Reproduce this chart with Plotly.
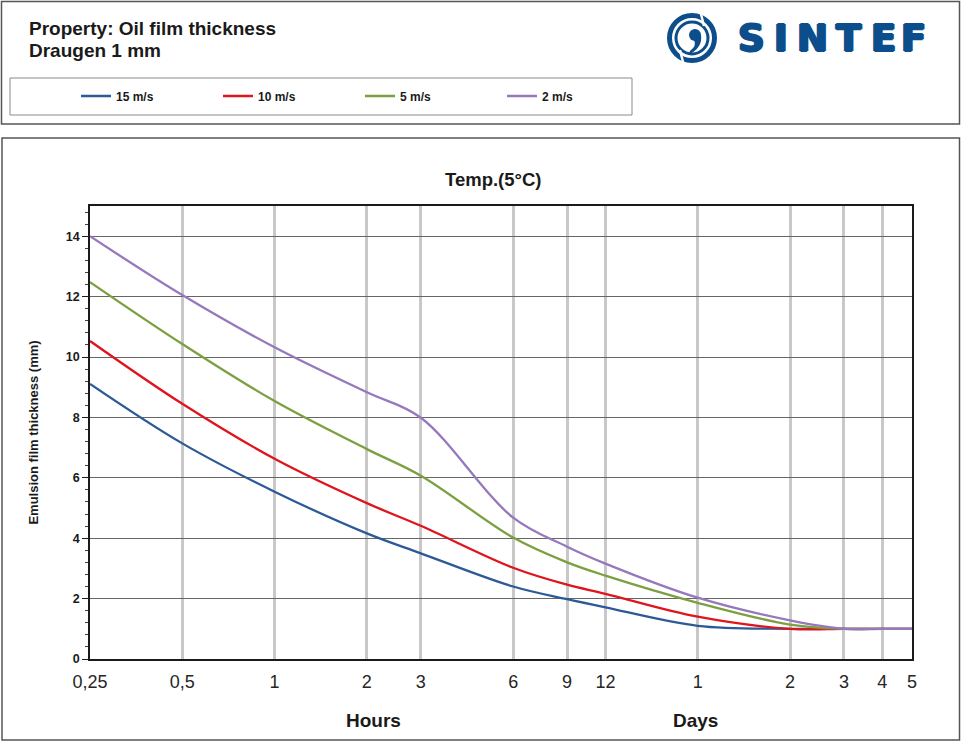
import math
import plotly.graph_objects as go

# ---------------- data ----------------
hours = [0.25, 0.5, 1, 2, 3, 6, 9, 12, 24, 48, 72, 96, 120]
wind_15 = [9.11, 7.14, 5.54, 4.16, 3.50, 2.40, 1.98, 1.71, 1.10, 1.00, 1.00, 1.00, 1.00]
wind_10 = [10.53, 8.45, 6.63, 5.16, 4.41, 3.02, 2.46, 2.16, 1.40, 1.00, 1.00, 1.00, 1.00]
wind_5 = [12.48, 10.43, 8.54, 6.95, 6.07, 4.02, 3.20, 2.76, 1.86, 1.14, 1.00, 1.00, 1.00]
wind_2 = [14.00, 12.05, 10.32, 8.83, 7.99, 4.68, 3.72, 3.16, 2.03, 1.28, 1.00, 1.00, 1.00]

series_names = ["15 m/s", "10 m/s", "5 m/s", "2 m/s"]
series_colors = ["#2D5A97", "#E0141C", "#7CA040", "#9579BC"]

tick_hours = [0.25, 0.5, 1, 2, 3, 6, 9, 12, 24, 48, 72, 96, 120]
tick_labels = ["0,25", "0,5", "1", "2", "3", "6", "9", "12", "1", "2", "3", "4", "5"]

# ---------------- layout helpers ----------------
W, H = 962, 742
L, R, T, B = 90, 912, 206, 659


def fx(x):
    return (x - L) / (R - L)


def fy(y):
    return (B - y) / (B - T)


FONT = "Liberation Sans, Arial, sans-serif"
LOGO_BLUE = "#0C4E8B"

fig = go.Figure()
for name, col, vals in zip(series_names, series_colors, [wind_15, wind_10, wind_5, wind_2]):
    fig.add_trace(go.Scatter(
        x=hours, y=vals, name=name, mode="lines",
        line=dict(color=col, width=2.3, shape="spline", smoothing=1.0),
    ))

fig.update_layout(
    width=W, height=H,
    margin=dict(l=L, r=W - R, t=T, b=H - B, pad=0),
    paper_bgcolor="white", plot_bgcolor="white",
    font=dict(family=FONT, color="#1a1a1a"),
    showlegend=True,
    legend=dict(
        orientation="h", x=fx(76), xanchor="left", y=fy(96), yanchor="middle",
        entrywidth=97, entrywidthmode="pixels", itemwidth=30,
        font=dict(family=FONT, size=12, weight="bold", color="#1a1a1a"),
        bgcolor="rgba(0,0,0,0)", borderwidth=0,
    ),
)

fig.update_xaxes(
    type="log", range=[math.log10(0.25), math.log10(120)],
    tickmode="array", tickvals=tick_hours, ticktext=tick_labels,
    showgrid=True, gridcolor="#c8c8c8", gridwidth=3,
    showline=True, linecolor="#1a1a1a", linewidth=1.5, mirror=True,
    ticks="", zeroline=False,
    tickfont=dict(family=FONT, size=18, color="#262626"),
    ticklabelstandoff=6,
)
fig.update_yaxes(
    range=[0, 15], tick0=0, dtick=2,
    ticks="outside", ticklen=6, tickwidth=1, tickcolor="#1a1a1a",
    minor=dict(ticks="outside", ticklen=3, dtick=0.4, tickcolor="#444444", showgrid=False),
    showgrid=True, gridcolor="#666666", gridwidth=1,
    showline=True, linecolor="#1a1a1a", linewidth=1.5, mirror=True,
    zeroline=False,
    tickfont=dict(family=FONT, size=12.5, weight="bold", color="#1a1a1a"),
    title=dict(text="Emulsion film thickness (mm)", standoff=24,
               font=dict(family=FONT, size=13, weight="bold", color="#1a1a1a")),
)

shapes = []
# outer frames
shapes.append(dict(type="rect", xref="paper", yref="paper",
                   x0=fx(1.5), x1=fx(959.5), y0=fy(124), y1=fy(1.5),
                   line=dict(color="#555555", width=1.5)))
shapes.append(dict(type="rect", xref="paper", yref="paper",
                   x0=fx(10), x1=fx(632), y0=fy(115), y1=fy(78),
                   line=dict(color="#8a8a8a", width=1)))
shapes.append(dict(type="rect", xref="paper", yref="paper",
                   x0=fx(2), x1=fx(959.5), y0=fy(740), y1=fy(138),
                   line=dict(color="#555555", width=1.5)))

# SINTEF emblem (rings + comma)
cx, cy = 692, 38
for r, w in [(22.5, 5), (16, 3)]:
    shapes.append(dict(type="circle", xref="paper", yref="paper",
                       x0=fx(cx - r), x1=fx(cx + r), y0=fy(cy + r), y1=fy(cy - r),
                       line=dict(color=LOGO_BLUE, width=w)))
# gaps in the rings
for (x0, y0, x1, y1) in [(700, 10, 704, 26), (680, 50, 684, 66)]:
    shapes.append(dict(type="line", xref="paper", yref="paper",
                       x0=fx(x0), y0=fy(y0), x1=fx(x1), y1=fy(y1),
                       line=dict(color="white", width=2.5)))
shapes.append(dict(type="circle", xref="paper", yref="paper",
                   x0=fx(689), x1=fx(701), y0=fy(41), y1=fy(29),
                   fillcolor=LOGO_BLUE, line=dict(color=LOGO_BLUE, width=0)))


def pt(x, y):
    return f"{fx(x):.5f},{fy(y):.5f}"


comma = (f"M {pt(701, 35)} Q {pt(703, 48)} {pt(688, 55)} "
         f"L {pt(690, 51)} Q {pt(697, 46)} {pt(694, 40)} Z")
shapes.append(dict(type="path", xref="paper", yref="paper", path=comma,
                   fillcolor=LOGO_BLUE, line=dict(color=LOGO_BLUE, width=0)))

annotations = []


def ann(text, x, y, size, xanchor="center", weight="bold", color="#1a1a1a",
        family=FONT, angle=0, shadow=None):
    font = dict(family=family, size=size, color=color, weight=weight)
    if shadow:
        font["shadow"] = shadow
    annotations.append(dict(
        text=text, x=fx(x), y=fy(y), xref="paper", yref="paper",
        xanchor=xanchor, yanchor="middle", showarrow=False, textangle=angle,
        font=font,
    ))


ann("Property: Oil film thickness", 27, 28, 19, xanchor="left")
ann("Draugen 1 mm", 27, 50, 19, xanchor="left")
ann("Temp.(5°C)", 493, 180, 18.5)
ann("Hours", 373, 720, 19)
ann("Days", 695, 720, 19)

thick = (f"1.2px 0 0 {LOGO_BLUE}, -1.2px 0 0 {LOGO_BLUE}, "
         f"0 0.6px 0 {LOGO_BLUE}, 0 -0.6px 0 {LOGO_BLUE}")
for letter, x in zip("SINTEF", [751.5, 781, 812.5, 849, 883.5, 913]):
    ann(letter, x, 39, 37, color=LOGO_BLUE, family="DejaVu Sans, sans-serif",
        weight="bold", shadow=thick)

fig.update_layout(shapes=shapes, annotations=annotations)

fig.write_html("out.html")
